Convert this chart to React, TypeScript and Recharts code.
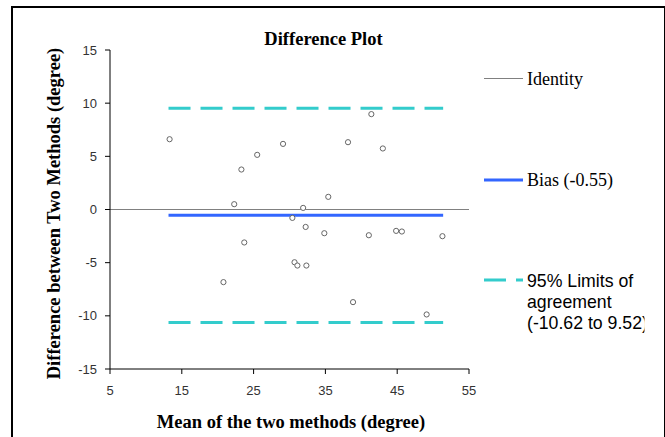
import React from 'react';
import { ScatterChart, Scatter, XAxis, YAxis, ReferenceLine, Legend, Label } from 'recharts';

const meanValues = [13.3, 20.8, 22.3, 23.3, 23.7, 25.5, 29.1, 30.4, 30.7, 31.1, 31.9, 32.25, 32.35, 34.85, 35.4, 38.15, 38.85, 41.05, 41.4, 43.0, 44.85, 45.65, 49.1, 51.3];
const diffValues = [6.61, -6.83, 0.5, 3.76, -3.1, 5.14, 6.17, -0.79, -4.96, -5.27, 0.15, -1.64, -5.27, -2.23, 1.19, 6.33, -8.71, -2.42, 8.97, 5.74, -2.01, -2.07, -9.87, -2.51];
const biasValue = -0.55;
const lowerLimit = -10.62;
const upperLimit = 9.52;
const xTicks = [5, 15, 25, 35, 45, 55];
const yTicks = [-15, -10, -5, 0, 5, 10, 15];
const chartTitle = 'Difference Plot';
const xAxisTitle = 'Mean of the two methods (degree)';
const yAxisTitle = 'Difference between Two Methods (degree)';
const legendIdentity = 'Identity';
const legendBias = 'Bias (-0.55)';
const legendLimits = ['95% Limits of', 'agreement', '(-10.62 to 9.52)'];

const points = meanValues.map((m, i) => ({ mean: m, diff: diffValues[i] }));
const lineStart = Math.min(...meanValues) - 0.15;
const lineEnd = Math.max(...meanValues) + 0.1;

const SERIF = '"Liberation Serif", "Times New Roman", serif';
const SANS = '"Liberation Sans", Arial, sans-serif';

const HollowDot = (props: any) => (
  <circle cx={props.cx} cy={props.cy} r={2.6} fill="#fff" stroke="#666" strokeWidth={1} />
);

const LegendOverlay = () => (
  <svg width={665} height={437} style={{ position: 'absolute', left: 0, top: 0 }}>
    <defs>
      <clipPath id="legclip">
        <rect x={480} y={0} width={164.5} height={437} />
      </clipPath>
    </defs>
    <text x={323.5} y={45} textAnchor="middle" fontFamily={SERIF} fontWeight="bold" fontSize={18.5} fill="#000">
      {chartTitle}
    </text>
    <line x1={484} x2={523} y1={78.5} y2={78.5} stroke="#808080" strokeWidth={1} />
    <text x={527} y={85} fontFamily={SERIF} fontSize={18} fill="#000">{legendIdentity}</text>
    <line x1={484} x2={523} y1={180} y2={180} stroke="#3366FF" strokeWidth={3} />
    <text x={527} y={185.5} fontFamily={SERIF} fontSize={18} fill="#000">{legendBias}</text>
    <line x1={484} x2={523} y1={280} y2={280} stroke="#33CCCC" strokeWidth={3} strokeDasharray="22 10" />
    <g clipPath="url(#legclip)">
      {legendLimits.map((t, i) => (
        <text key={i} x={527} y={286.5 + i * 21} fontFamily={SANS} fontSize={17.7} fill="#000">{t}</text>
      ))}
    </g>
  </svg>
);

export default function App() {
  return (
    <div style={{ position: 'absolute', left: 0, top: 0, width: 665, height: 437, background: '#fff' }}>
      <div
        style={{
          position: 'absolute',
          left: 11,
          top: 6,
          width: 651,
          height: 460,
          borderLeft: '2px solid #000',
          borderTop: '2px solid #000',
          borderRight: '2px solid #000',
        }}
      />
      <ScatterChart width={665} height={437} margin={{ top: 50, right: 196, bottom: 0, left: 0 }}>
        <XAxis
          type="number"
          dataKey="mean"
          domain={[5, 55]}
          ticks={xTicks}
          interval={0}
          height={68}
          allowDataOverflow
          axisLine={{ stroke: '#000', strokeWidth: 1 }}
          tickLine={{ stroke: '#000' }}
          tickSize={5}
          tickMargin={12}
          tick={{ fontFamily: SANS, fontSize: 13, fill: '#333' }}
        >
          <Label
            content={() => (
              <text x={291} y={427.5} textAnchor="middle" fontFamily={SERIF} fontWeight="bold" fontSize={18.5} fill="#000">
                {xAxisTitle}
              </text>
            )}
          />
        </XAxis>
        <YAxis
          type="number"
          dataKey="diff"
          domain={[-15, 15]}
          ticks={yTicks}
          interval={0}
          width={110}
          allowDataOverflow
          axisLine={{ stroke: '#000', strokeWidth: 1 }}
          tickLine={{ stroke: '#000' }}
          tickSize={5}
          tickMargin={8}
          tick={{ fontFamily: SANS, fontSize: 13, fill: '#333' }}
        >
          <Label
            content={() => (
              <text
                x={60}
                y={213.5}
                transform="rotate(-90 60 213.5)"
                textAnchor="middle"
                fontFamily={SERIF}
                fontWeight="bold"
                fontSize={18.5}
                fill="#000"
              >
                {yAxisTitle}
              </text>
            )}
          />
        </YAxis>
        <ReferenceLine y={0} stroke="#808080" strokeWidth={1} />
        <ReferenceLine
          segment={[{ x: lineStart, y: upperLimit }, { x: lineEnd, y: upperLimit }]}
          stroke="#33CCCC"
          strokeWidth={3}
          strokeDasharray="22 10"
        />
        <ReferenceLine
          segment={[{ x: lineStart, y: lowerLimit }, { x: lineEnd, y: lowerLimit }]}
          stroke="#33CCCC"
          strokeWidth={3}
          strokeDasharray="22 10"
        />
        <ReferenceLine
          segment={[{ x: lineStart, y: biasValue }, { x: lineEnd, y: biasValue }]}
          stroke="#3366FF"
          strokeWidth={3}
        />
        <Scatter data={points} shape={HollowDot} isAnimationActive={false} />
        <Legend
          layout="horizontal"
          verticalAlign="middle"
          align="center"
          content={() => <LegendOverlay />}
          wrapperStyle={{ left: 0, top: 0, width: 665, height: 437, pointerEvents: 'none' }}
        />
      </ScatterChart>
    </div>
  );
}
